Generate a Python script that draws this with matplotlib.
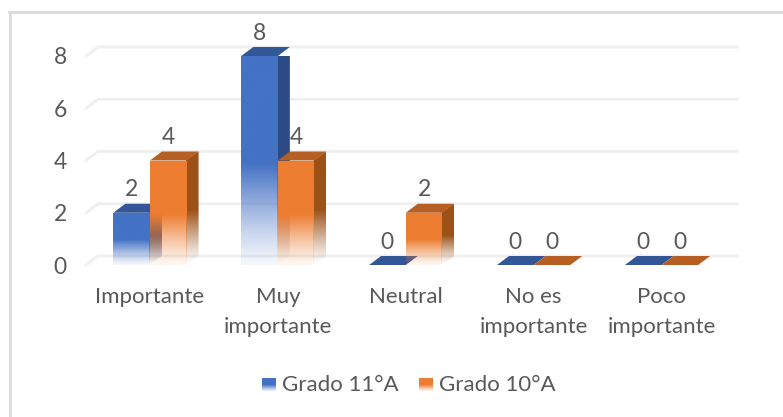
import numpy as np
import matplotlib
matplotlib.use("Agg")
import matplotlib.pyplot as plt
from matplotlib.colors import to_rgb
from matplotlib.lines import Line2D
from matplotlib.patches import Polygon

categories = ["Importante", "Muy\nimportante", "Neutral", "No es\nimportante", "Poco\nimportante"]
grado_11 = [2, 8, 0, 0, 0]
grado_10 = [4, 4, 2, 0, 0]
series_names = ["Grado 11°A", "Grado 10°A"]
y_ticks = [0, 2, 4, 6, 8]

BLUE = ["#4472C4", "#2C4A84", "#335696"]     # front, side, top
ORANGE = ["#ED7D31", "#9C5118", "#B55F22"]
TEXT = "#595959"
GRID = "#EFEFEF"
W, H = 783, 417

plt.rcParams["font.family"] = ["Lato", "DejaVu Sans"]

fig = plt.figure(figsize=(W / 100, H / 100), dpi=100)

# front plane of the 3d box, in pixels
left, right, top, bottom = 86, 725.5, 56, 265
ax = fig.add_axes([left / W, 1 - bottom / H, (right - left) / W, (bottom - top) / H])
ax.set_xlim(-0.5, 4.5)
ax.set_ylim(0, 8)
ax.axis("off")

# depth of the box in data units
px_x = (right - left) / 5
px_y = (bottom - top) / 8
dx = 12 / px_x
dy = 9 / px_y
bar_w = 0.2865


# vertical fade: solid on top, nearly gone at the bottom
def fade_img(color, low):
    n = 128
    img = np.ones((n, 1, 4))
    img[:, :, :3] = to_rgb(color)
    t = np.linspace(1, 0, n)  # 1 at top row
    a = np.clip(t / 0.48, 0, 1)
    img[:, 0, 3] = low + (1 - low) * a ** 1.2
    return img


def faded(poly_pts, extent, color, low, z):
    im = ax.imshow(fade_img(color, low), extent=extent, aspect="auto", zorder=z,
                   interpolation="bilinear", origin="upper")
    clip = Polygon(poly_pts, closed=True, transform=ax.transData)
    im.set_clip_path(clip)


def draw_bar(x0, v, cols, z):
    x1 = x0 + bar_w
    lap = 1 / px_x  # side runs a pixel under the front, hides the seam
    if v > 0:
        side = [(x1 - lap, 0), (x1 + dx, dy), (x1 + dx, v + dy), (x1 - lap, v)]
        faded(side, (x1 - lap, x1 + dx, 0, v + dy), cols[1], 0.0, z)
        faded([(x0, 0), (x1, 0), (x1, v), (x0, v)], (x0, x1, 0, v), cols[0], 0.06, z + 0.2)
    roof = [(x0, v), (x1, v), (x1 + dx, v + dy), (x0 + dx, v + dy)]
    ax.add_patch(Polygon(roof, closed=True, fc=cols[2], ec="none", zorder=z + 0.1, clip_on=False))


# gridlines on the back wall and the short slanted part on the left
for t in y_ticks:
    ax.add_line(Line2D([-0.5, -0.5 + dx, 4.5 + dx], [t, t + dy, t + dy], color=GRID, lw=2,
                       zorder=1, clip_on=False))
    ax.text(-0.65, t - 2 / px_y, str(t), ha="right", va="center", fontsize=16.5, color=TEXT)

for i, cat in enumerate(categories):
    a, b = grado_11[i], grado_10[i]
    draw_bar(i - bar_w, a, BLUE, 3)
    draw_bar(i, b, ORANGE, 4)
    ax.text(i - bar_w / 2, a + 23 / px_y, str(a), ha="center", va="center", fontsize=16.5,
            color=TEXT, zorder=6)
    ax.text(i + bar_w / 2, b + 23 / px_y, str(b), ha="center", va="center", fontsize=16.5,
            color=TEXT, zorder=6)
    lines = cat.split("\n")
    for j, s in enumerate(lines):
        ax.text(i, -(32 + 30 * j) / px_y, s, ha="center", va="center", fontsize=16, color=TEXT)

# frame, only top and left are inside the crop
fig.add_artist(Line2D([9.5 / W, 9.5 / W], [0, 1 - 11.5 / H], color="#DCDCDC", lw=2.2))
fig.add_artist(Line2D([8.5 / W, 1], [1 - 11.5 / H, 1 - 11.5 / H], color="#DCDCDC", lw=2.2))

# legend
for x_px, name, cols in [(262, series_names[0], BLUE), (419, series_names[1], ORANGE)]:
    lax = fig.add_axes([x_px / W, 1 - 391 / H, 14 / W, 13 / H])
    lax.imshow(fade_img(cols[0], 0.1), aspect="auto", interpolation="bilinear")
    lax.axis("off")
    fig.text((x_px + 20) / W, 1 - 385 / H, name, ha="left", va="center", fontsize=16, color=TEXT)

fig.savefig("out.png", dpi=100)
